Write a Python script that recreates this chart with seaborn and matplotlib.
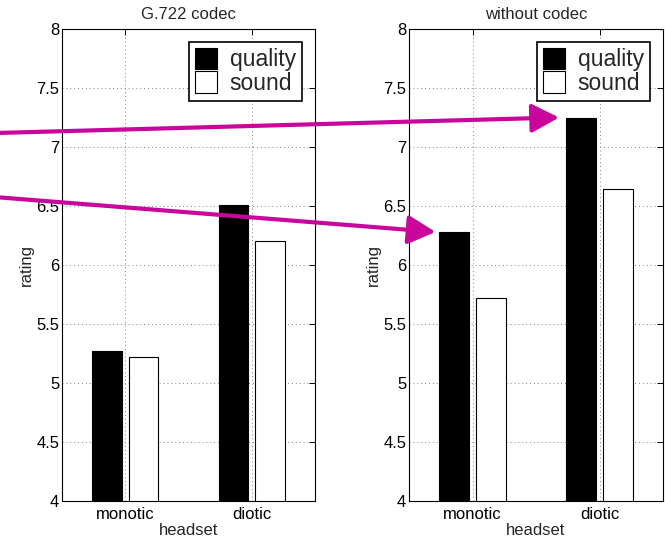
import pandas as pd
import numpy as np
import matplotlib.pyplot as plt
import seaborn as sns

headsets = ["monotic", "diotic"]
measures = ["quality", "sound"]
g722_quality = [5.27, 6.51]
g722_sound = [5.22, 6.20]
nocodec_quality = [6.28, 7.25]
nocodec_sound = [5.72, 6.64]
titles = ["G.722 codec", "without codec"]
yticks = [4, 4.5, 5, 5.5, 6, 6.5, 7, 7.5, 8]
ytick_labels = ["4", "4.5", "5", "5.5", "6", "6.5", "7", "7.5", "8"]


def make_df(quality, sound):
    return pd.DataFrame({
        "headset": headsets * 2,
        "measure": ["quality"] * 2 + ["sound"] * 2,
        "rating": quality + sound,
    })


sns.set_style("white")
plt.rcParams["font.family"] = ["Liberation Sans", "DejaVu Sans"]

fig = plt.figure(figsize=(6.65, 5.41), dpi=100)
ax1 = fig.add_axes([62 / 665, 40 / 541, 253 / 665, 472 / 541])
ax2 = fig.add_axes([409 / 665, 40 / 541, 254 / 665, 472 / 541])

data = [make_df(g722_quality, g722_sound), make_df(nocodec_quality, nocodec_sound)]

for ax, df, title in zip([ax1, ax2], data, titles):
    sns.barplot(data=df, x="headset", y="rating", hue="measure", order=headsets,
                hue_order=measures, palette=["black", "white"], saturation=1,
                width=0.58, gap=0.2, edgecolor="black", linewidth=0.8, ax=ax)
    ax.set_xlim(-0.5, 1.5)
    ax.set_ylim(4, 8)
    ax.set_yticks(yticks)
    ax.set_yticklabels(ytick_labels)
    ax.set_axisbelow(True)
    ax.grid(True, linestyle=(0, (1, 3)), color="#808080", linewidth=0.7)
    ax.tick_params(direction="in", top=True, right=True, length=4, width=0.7,
                   labelsize=12, colors="black")
    ax.tick_params(axis="y", pad=2)
    ax.tick_params(axis="x", pad=4)
    for s in ax.spines.values():
        s.set_color("black")
        s.set_linewidth(0.8)
    ax.set_title(title, fontsize=12, pad=7)
    ax.set_xlabel("headset", fontsize=12, labelpad=1)
    ax.set_ylabel("rating", fontsize=12, labelpad=2)
    handles, labels = ax.get_legend_handles_labels()
    leg = ax.legend(handles, labels, loc="upper right", fontsize=16.5,
                    frameon=True, fancybox=False, framealpha=1, edgecolor="black",
                    handlelength=0.95, handleheight=1.04, handletextpad=0.55,
                    labelspacing=0, borderpad=0.28, borderaxespad=0.55)
    leg.get_frame().set_linewidth(1.2)

# magenta arrows from left plot to the right plot bars
magenta = "#c8069c"
bars = [p for p in ax2.patches if p.get_height() > 0]
quality_bars = sorted([p for p in bars if p.get_facecolor()[0] < 0.5], key=lambda p: p.get_x())
starts = [0.636, 0.754]
gaps = [0.03, 0.057]
for bar, y0, gap in zip(quality_bars, starts, gaps):
    ax2.annotate("", xy=(bar.get_x() - gap, bar.get_height()), xycoords="data",
                 xytext=(-0.01, y0), textcoords="figure fraction",
                 arrowprops=dict(arrowstyle="-|>, head_length=0.42, head_width=0.22",
                                 color=magenta, lw=3,
                                 mutation_scale=40, shrinkA=0, shrinkB=0),
                 annotation_clip=False, zorder=10)

fig.savefig("out.png", dpi=100)
